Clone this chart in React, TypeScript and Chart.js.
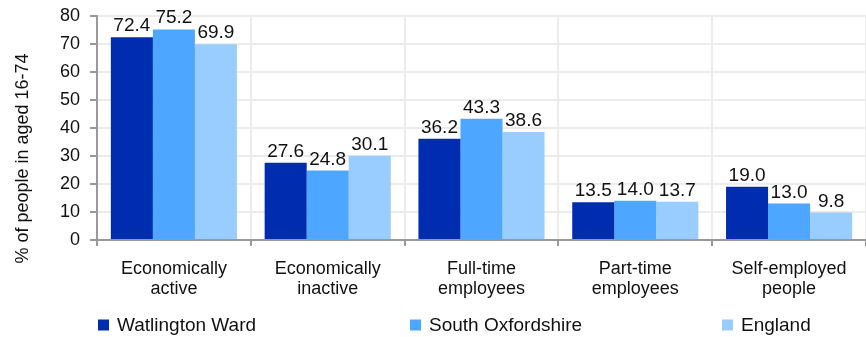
import React, { useEffect, useRef } from "react";
import { Chart, registerables } from "chart.js";

Chart.register(...registerables);

const categories: string[][] = [
  ["Economically", "active"],
  ["Economically", "inactive"],
  ["Full-time", "employees"],
  ["Part-time", "employees"],
  ["Self-employed", "people"],
];
const seriesNames = ["Watlington Ward", "South Oxfordshire", "England"];
const watlington = [72.4, 27.6, 36.2, 13.5, 19.0];
const southOxfordshire = [75.2, 24.8, 43.3, 14.0, 13.0];
const england = [69.9, 30.1, 38.6, 13.7, 9.8];
const seriesColors = ["#002db0", "#4da6ff", "#99ccff"];
const yTitle = "% of people in aged 16-74";
const yMin = 0;
const yMax = 80;
const yStep = 10;

const FONT = "'Liberation Sans', Arial, sans-serif";

const labelPlugin = {
  id: "valueLabels",
  afterDatasetsDraw(chart: any) {
    const ctx = chart.ctx;
    ctx.save();
    ctx.font = `19px ${FONT}`;
    ctx.fillStyle = "#111";
    ctx.textAlign = "center";
    ctx.textBaseline = "alphabetic";
    chart.data.datasets.forEach((ds: any, i: number) => {
      const meta = chart.getDatasetMeta(i);
      meta.data.forEach((el: any, j: number) => {
        ctx.fillText(Number(ds.data[j]).toFixed(1), el.x, el.y - 6);
      });
    });
    ctx.restore();
  },
};

const decorPlugin = {
  id: "decor",
  afterDraw(chart: any) {
    const ctx = chart.ctx;
    const area = chart.chartArea;
    ctx.save();
    const cy = (area.top + chart.scales.x.bottom) / 2 - 3;
    ctx.translate(23, cy);
    ctx.rotate(-Math.PI / 2);
    ctx.font = `18px ${FONT}`;
    ctx.fillStyle = "#111";
    ctx.textAlign = "center";
    ctx.textBaseline = "middle";
    ctx.fillText(yTitle, 0, 0);
    ctx.restore();

    ctx.save();
    ctx.font = `19px ${FONT}`;
    ctx.textBaseline = "middle";
    ctx.textAlign = "left";
    const legendY = 325;
    const spacing = 312;
    chart.data.datasets.forEach((ds: any, i: number) => {
      const x = area.left + 1 + i * spacing;
      ctx.fillStyle = ds.backgroundColor;
      ctx.fillRect(x, legendY - 5.5, 11, 11);
      ctx.fillStyle = "#111";
      ctx.fillText(ds.label, x + 19, legendY + 1);
    });
    ctx.restore();
  },
};

export default function App() {
  const ref = useRef<HTMLCanvasElement | null>(null);
  useEffect(() => {
    if (!ref.current) return;
    const series = [watlington, southOxfordshire, england];
    const chart = new Chart(ref.current, {
      type: "bar",
      data: {
        labels: categories,
        datasets: series.map((d, i) => ({
          label: seriesNames[i],
          data: d,
          backgroundColor: seriesColors[i],
          borderWidth: 0,
          categoryPercentage: 0.82,
          barPercentage: 1,
        })),
      },
      options: {
        animation: false,
        responsive: false,
        maintainAspectRatio: false,
        layout: { padding: { top: 16, right: 0, bottom: 30, left: 0 } },
        plugins: {
          legend: { display: false },
          tooltip: { enabled: false },
          title: { display: false },
        },
        scales: {
          x: {
            afterFit: (s: any) => {
              s.height = 67;
              s.paddingLeft = 0;
              s.paddingRight = 0;
            },
            grid: {
              color: "#ececec",
              lineWidth: 2,
              tickColor: "#999",
              tickLength: 6,
              offset: true,
            },
            border: { color: "#999", width: 2 },
            ticks: {
              color: "#111",
              font: { family: FONT, size: 18, lineHeight: 1.1 },
              padding: 13,
              maxRotation: 0,
              autoSkip: false,
            },
          },
          y: {
            min: yMin,
            max: yMax,
            afterFit: (s: any) => {
              s.width = 97;
              s.paddingTop = 0;
              s.paddingBottom = 0;
            },
            grid: {
              color: "#ececec",
              lineWidth: 2,
              tickColor: "#999",
              tickLength: 7,
            },
            border: { color: "#999", width: 2 },
            ticks: {
              stepSize: yStep,
              color: "#111",
              font: { family: FONT, size: 18 },
              padding: 10,
            },
          },
        },
      },
      plugins: [labelPlugin, decorPlugin],
    });
    return () => chart.destroy();
  }, []);
  return (
    <div style={{ position: "absolute", left: 0, top: 0, width: 866, height: 337, background: "#fff" }}>
      <canvas ref={ref} width={866} height={337} style={{ display: "block", width: 866, height: 337 }} />
    </div>
  );
}
